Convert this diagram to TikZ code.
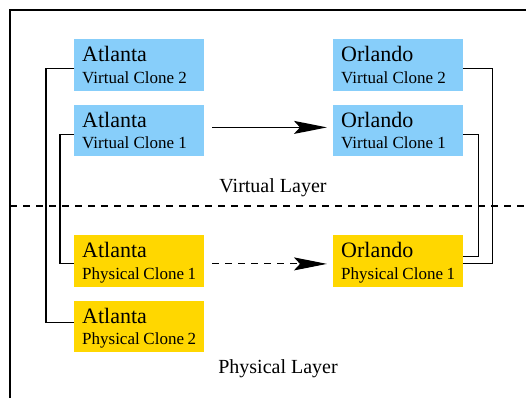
\documentclass[tikz,border=0pt]{standalone}
\usepackage{fontspec}
\setmainfont{Liberation Serif}
\usetikzlibrary{positioning,calc,arrows.meta}
\definecolor{virtblue}{RGB}{135,206,250}
\definecolor{physgold}{RGB}{255,215,0}
\tikzset{>={Stealth[length=33pt,width=13pt,inset=6pt]}}
\tikzset{clone/.style={rectangle,anchor=north west,inner xsep=8pt,inner ysep=0pt,
    text height=22.4pt,text depth=29pt},
  virt/.style={clone,fill=virtblue},
  phys/.style={clone,fill=physgold},
  layer/.style={anchor=base,font=\fontsize{20}{24}\selectfont},
  link/.style={line width=1.1pt},
  flow/.style={line width=1.1pt,->}}
\newcommand{\city}[2]{\vtop{\baselineskip=21.6pt
  \hbox to 114pt{\fontsize{22}{22}\selectfont #1\hfil}
  \hbox to 114pt{\fontsize{17}{17}\selectfont #2\hfil}}}

\begin{document}
\begin{tikzpicture}[x=1pt,y=-1pt]
\useasboundingbox (0,0) rectangle (526,398);
\draw[link] (10,398) -- (10,10) -- (526,10);
\draw[link,dash pattern=on 7pt off 6pt] (10,206) -- (526,206);
\node[virt] (av2) at (74,39) {\city{Atlanta}{Virtual Clone 2}};
\node[virt] (av1) at (74,104.5) {\city{Atlanta}{Virtual Clone 1}};
\node[virt] (ov2) at (333,39) {\city{Orlando}{Virtual Clone 2}};
\node[virt] (ov1) at (333,104.5) {\city{Orlando}{Virtual Clone 1}};
\node[phys] (ap1) at (74,235) {\city{Atlanta}{Physical Clone 1}};
\node[phys] (ap2) at (74,300.5) {\city{Atlanta}{Physical Clone 2}};
\node[phys] (op1) at (333,235) {\city{Orlando}{Physical Clone 1}};
\node[layer] (vl) at (273,192) {Virtual Layer};
\node[layer] (pl) at (278,373) {Physical Layer};
\draw[flow] ([xshift=8pt,yshift=3pt]av1.east) -- ([xshift=-6pt,yshift=3pt]ov1.west);
\draw[flow,dash pattern=on 7pt off 6pt] ([xshift=8pt,yshift=-3pt]ap1.east) -- ([xshift=-6pt,yshift=-3pt]op1.west);
\draw[link] ([yshift=-4pt]av2.west) -- ++(-28,0) |- ([yshift=4pt]ap2.west);
\draw[link] ([yshift=-4pt]av1.west) -- ++(-14,0) |- ([yshift=-3pt]ap1.west);
\draw[link] ([yshift=-4pt]ov2.east) -- ++(29,0) |- ([yshift=-3pt]op1.east);
\draw[link] ([yshift=-4pt]ov1.east) -- ++(15,0) |- ([yshift=4pt]op1.east);
\end{tikzpicture}
\end{document}
